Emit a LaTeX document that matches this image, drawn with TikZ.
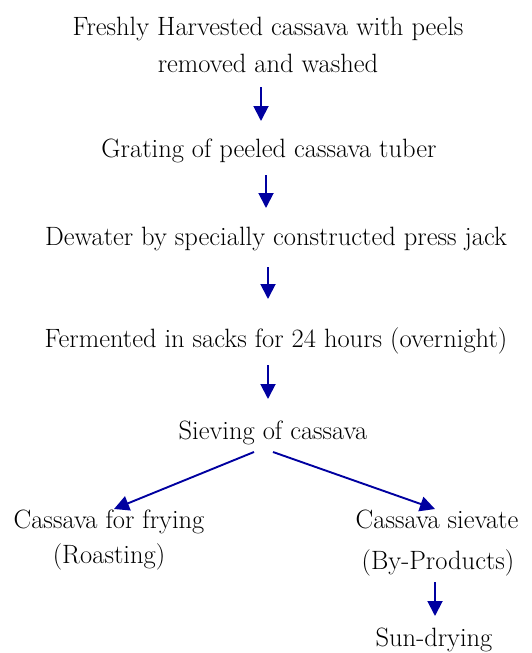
\documentclass[tikz,border=0pt]{standalone}
\usetikzlibrary{arrows.meta}
\definecolor{arrowblue}{RGB}{0,0,160}
\tikzset{
  lbl/.style={anchor=base, inner sep=0pt, font=\fontsize{26.5}{37}\selectfont},
  arr/.style={draw=arrowblue, line width=1.9pt, -{Triangle[length=15pt,width=15pt]}, arrowblue},
}
\begin{document}
\begin{tikzpicture}[x=1pt,y=-1pt]
\useasboundingbox (0,0) rectangle (531,653);
\node[lbl] (t1a) at (268,35) {Freshly Harvested cassava with peels};
\node[lbl] (t1b) at (268,72) {removed and washed};
\node[lbl] (t2) at (269,157) {Grating of peeled cassava tuber};
\node[lbl] (t3) at (276,245) {Dewater by specially constructed press jack};
\node[lbl] (t4) at (276,347) {Fermented in sacks for 24 hours (overnight)};
\node[lbl] (t5) at (273,439) {Sieving of cassava};
\node[lbl] (t6a) at (109,528) {Cassava for frying};
\node[lbl] (t6b) at (109,563) {(Roasting)};
\node[lbl] (t7a) at (437,528) {Cassava sievate};
\node[lbl] (t7b) at (438,569) {(By-Products)};
\node[lbl] (t8) at (434,646) {Sun-drying};
\coordinate (a1s) at (261,87); \coordinate (a1e) at (261,121);
\coordinate (a2s) at (266,175); \coordinate (a2e) at (266,208);
\coordinate (a3s) at (268,267); \coordinate (a3e) at (268,299);
\coordinate (a4s) at (268,365); \coordinate (a4e) at (268,399);
\coordinate (a5s) at (254,452); \coordinate (a5e) at (114,509);
\coordinate (a6s) at (273,452); \coordinate (a6e) at (435,509);
\coordinate (a7s) at (435,582); \coordinate (a7e) at (435,616);
\draw[arr] (a1s) -- (a1e);
\draw[arr] (a2s) -- (a2e);
\draw[arr] (a3s) -- (a3e);
\draw[arr] (a4s) -- (a4e);
\draw[arr] (a5s) -- (a5e);
\draw[arr] (a6s) -- (a6e);
\draw[arr] (a7s) -- (a7e);
\end{tikzpicture}
\end{document}
